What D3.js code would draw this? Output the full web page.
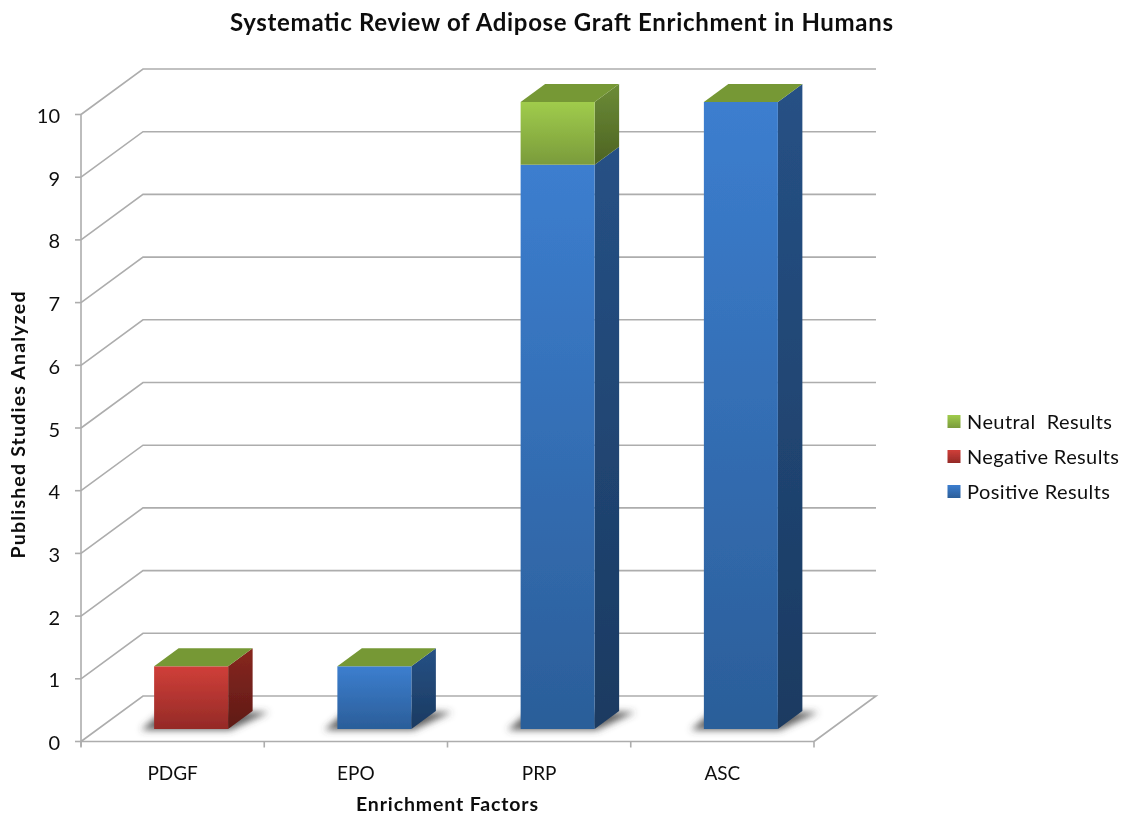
<!DOCTYPE html>
<html><head><meta charset="utf-8">
<script src="https://cdn.jsdelivr.net/npm/d3@7"></script>
<style>html,body{margin:0;background:#fff}svg{display:block}text{font-family:Lato,sans-serif;fill:#111}</style>
</head><body><svg id="c" width="1128" height="815"></svg>
<script>
const categories = ["PDGF","EPO","PRP","ASC"];
const positive = [0,1,9,10];
const negative = [1,0,0,0];
const neutral = [0,0,1,0];
const yTicks = [0,1,2,3,4,5,6,7,8,9,10];
const legendLabels = ["Neutral  Results","Negative Results","Positive Results"];
const titleText = "Systematic Review of Adipose Graft Enrichment in Humans";
const xTitle = "Enrichment Factors";
const yTitle = "Published Studies Analyzed";

const svg = d3.select("#c");
const x = d3.scaleBand().domain(categories).range([81,814]);
const y = d3.scaleLinear().domain([0,10]).range([741.5,114.5]);
const wall = {dx:62,dy:-45.5};
const bar = {w:74,off:0,dx:24.5,dy:-18,lift:-12.5};
const pal = {
 pos:{f:["#3c7ecf","#2b5e99"],s:["#265185","#1b3a61"]},
 neg:{f:["#d03f39","#942a27"],s:["#88271f","#5e1a16"]},
 neu:{f:["#a0cc4c","#7a9b3b"],s:["#6c8c37","#4d6322"]}
};
const defs = svg.append("defs");
function grad(id,c){const g=defs.append("linearGradient").attr("id",id).attr("x1",0).attr("y1",0).attr("x2",0).attr("y2",1);
 g.append("stop").attr("offset",0).attr("stop-color",c[0]);g.append("stop").attr("offset",1).attr("stop-color",c[1]);}
Object.entries(pal).forEach(([k,v])=>{grad(k+"F",v.f);grad(k+"S",v.s);});
defs.append("filter").attr("id","sh").attr("x","-40%").attr("y","-80%").attr("width","180%").attr("height","260%")
  .append("feGaussianBlur").attr("stdDeviation",3.5);
defs.append("filter").attr("id","soft").append("feGaussianBlur").attr("stdDeviation",0.5);
defs.append("filter").attr("id","softT").append("feGaussianBlur").attr("stdDeviation",0.3);

const root = svg.append("g");
const art = root.append("g").attr("filter","url(#soft)");
const labels = root.append("g").attr("filter","url(#softT)");
const poly = (g,pts)=>g.append("polygon").attr("points",pts.map(p=>p.join(",")).join(" "));
const gridC="#adadad";
const x0=x.range()[0],x1=x.range()[1];
yTicks.forEach(t=>{
  const py=y(t);
  art.append("path").attr("fill","none").attr("stroke",gridC).attr("stroke-width",1.6)
    .attr("d",`M${x0},${py}L${x0+wall.dx},${py+wall.dy}H${x1+wall.dx}`+(t===0?`L${x1},${py}`:""));
  art.append("line").attr("x1",x0-6).attr("x2",x0).attr("y1",py).attr("y2",py).attr("stroke",gridC).attr("stroke-width",1.6);
});
art.append("line").attr("x1",x0).attr("x2",x0).attr("y1",y(10)).attr("y2",y(0)+5).attr("stroke",gridC).attr("stroke-width",1.6);
art.append("line").attr("x1",x0).attr("x2",x1).attr("y1",y(0)).attr("y2",y(0)).attr("stroke",gridC).attr("stroke-width",1.6);
[0,1,2,3,4].forEach(i=>{const px=x0+i*x.bandwidth();
  art.append("line").attr("x1",px).attr("x2",px).attr("y1",y(0)).attr("y2",y(0)+6).attr("stroke",gridC).attr("stroke-width",1.6);});

categories.forEach((c,i)=>{
  const cx=x(c)+x.bandwidth()/2+18.5+bar.off;
  const L=cx-bar.w/2,R=cx+bar.w/2;
  const Y=v=>y(v)+bar.lift;
  const base=Y(0);
  const s=art.append("g").attr("filter","url(#sh)");
  poly(s,[[L-13,base+1],[R+2,base+1],[R+bar.dx+16,base+bar.dy+1],[L+8,base+bar.dy+1]]).attr("fill","#444").attr("opacity",.85);
  const segs=[["pos",positive[i]],["neg",negative[i]],["neu",neutral[i]]];
  let acc=0;
  segs.forEach(([k,v])=>{
    if(!v) return;
    const y0=Y(acc),y1=Y(acc+v);
    poly(art,[[R,y0],[R+bar.dx,y0+bar.dy],[R+bar.dx,y1+bar.dy],[R,y1]]).attr("fill",`url(#${k}S)`);
    art.append("rect").attr("x",L).attr("y",y1).attr("width",bar.w).attr("height",y0-y1).attr("fill",`url(#${k}F)`);
    acc+=v;
  });
  const ty=Y(acc);
  poly(art,[[L,ty],[L+bar.dx,ty+bar.dy],[R+bar.dx,ty+bar.dy],[R,ty]]).attr("fill","#769835");
  labels.append("text").attr("x",x(c)+x.bandwidth()/2).attr("y",780).attr("text-anchor","middle").attr("font-size",19).text(c);
});

yTicks.forEach(t=>labels.append("text").attr("x",60).attr("y",y(t)+8.5).attr("text-anchor","end").attr("font-size",20).text(t));

labels.append("text").attr("x",561.5).attr("y",31).attr("text-anchor","middle").attr("font-size",24).attr("font-weight",700).attr("textLength",663).text(titleText);
labels.append("text").attr("x",447).attr("y",811).attr("text-anchor","middle").attr("font-size",19.5).attr("font-weight",700).attr("textLength",182).text(xTitle);
labels.append("text").attr("transform","translate(25,425) rotate(-90)").attr("text-anchor","middle").attr("font-size",19.5).attr("font-weight",700).attr("textLength",267).text(yTitle);

const legKeys=["neu","neg","pos"];
const legW=[145,152,143];
legendLabels.forEach((l,i)=>{
  const ly=421.5+i*35;
  art.append("rect").attr("x",947.5).attr("y",ly-6.5).attr("width",13).attr("height",13).attr("fill",`url(#${legKeys[i]}F)`);
  labels.append("text").attr("x",967).attr("y",ly+7).attr("font-size",20).style("white-space","pre").attr("textLength",legW[i]).text(l);
});
</script></body></html>
